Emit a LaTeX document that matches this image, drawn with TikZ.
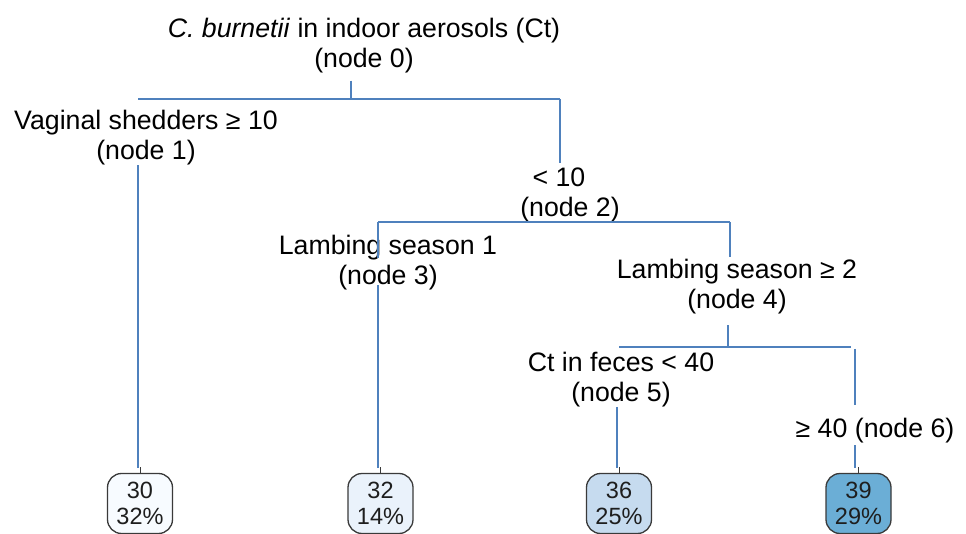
\documentclass[tikz,border=0pt]{standalone}
\usepackage{fontspec}
\setmainfont{Liberation Sans}
\definecolor{edgeblue}{HTML}{4F81BD}
\definecolor{leafborder}{HTML}{3A3A3A}
\definecolor{leaftext}{HTML}{1E1E1E}
\definecolor{leafA}{HTML}{F7FBFF}
\definecolor{leafB}{HTML}{EAF2FB}
\definecolor{leafC}{HTML}{C6DBEF}
\definecolor{leafD}{HTML}{6BAED6}
\begin{document}
\begin{tikzpicture}[x=1pt,y=-1pt,
  lbl/.style={font=\fontsize{26.7}{30}\selectfont, align=center, inner sep=0pt, text=black},
  edge/.style={draw=edgeblue, line width=2pt},
  leaf/.style={draw=leafborder, line width=1.3pt, rounded corners=14pt,
    minimum width=65pt, minimum height=60pt, inner sep=0pt, align=center,
    font=\fontsize{23.5}{26}\selectfont, text=leaftext},
  tick/.style={draw=leafborder, line width=1pt}]
\useasboundingbox (0,0) rectangle (966,534);

% split labels
\node[lbl] (n0) at (364,45.7) {\textit{C. burnetii} in indoor aerosols (Ct)\\(node 0)};
\node[lbl] (n1) at (146,137.6) {Vaginal shedders ≥ 10\\(node 1)};
\node[lbl] (n2) at (570,195.2) {< 10\hspace*{22pt}\\(node 2)};
\node[lbl] (n3) at (388,262.2) {Lambing season 1\\(node 3)};
\node[lbl] (n4) at (737,286.2) {Lambing season ≥ 2\\(node 4)};
\node[lbl] (n5) at (621,379.2) {Ct in feces < 40\\(node 5)};
\node[lbl, anchor=base] (n6) at (875,437) {≥ 40 (node 6)};

% leaves
\node[leaf, fill=leafA] (l1) at (140,503.5) {30\\32\%};
\node[leaf, fill=leafB] (l2) at (380.5,503.5) {32\\14\%};
\node[leaf, fill=leafC] (l3) at (619,503.5) {36\\25\%};
\node[leaf, fill=leafD] (l4) at (858.5,503.5) {39\\29\%};

% junction coordinates
\coordinate (j0) at (351,99);
\coordinate (h0L) at (138,99);
\coordinate (h0R) at (560,99);
\coordinate (h2L) at (378,222);
\coordinate (h2R) at (730,222);
\coordinate (s3) at (378,258);
\coordinate (j4) at (728,347);
\coordinate (h4L) at (619,347);
\coordinate (h4R) at (851,347);
\coordinate (v6) at (855,349);

% root split
\draw[edge, shorten <=7.4pt] (j0 |- n0.south) -- (j0);
\draw[edge] (h0L) -- (h0R);
\draw[edge, shorten >=4.7pt] (h0R) -- (h0R |- n2.north);
% node 1 to leaf
\draw[edge, shorten >=5pt] (n1.south -| h0L) -- (h0L |- l1.north);
% node 2 split
\draw[edge] (h2L) -- (h2R);
\draw[edge] (h2L) -- (s3);
\draw[edge, shorten >=1.5pt] (h2R) -- (h2R |- n4.north);
% node 3 to leaf
\draw[edge, shorten <=-4.6pt, shorten >=5pt] (n3.south -| h2L) -- (h2L |- l2.north);
% node 4 split
\draw[edge, shorten <=11.4pt] (j4 |- n4.south) -- (j4);
\draw[edge] (h4L) -- (h4R);
\draw[edge, shorten >=12.7pt] (v6) -- (v6 |- n6.north);
% node 5 to leaf
\draw[edge, shorten >=5pt] (n5.south -| 617,0) -- (617,0 |- l3.north);
% node 6 to leaf
\draw[edge, shorten <=2.4pt, shorten >=5pt] (v6 |- n6.south) -- (v6 |- l4.north);

% ticks on leaves
\draw[tick] (l1.north) -- ++(0,-6);
\draw[tick] (l2.north) -- ++(0,-6);
\draw[tick] (l3.north) -- ++(0,-6);
\draw[tick] (l4.north) -- ++(0,-6);
\end{tikzpicture}
\end{document}
